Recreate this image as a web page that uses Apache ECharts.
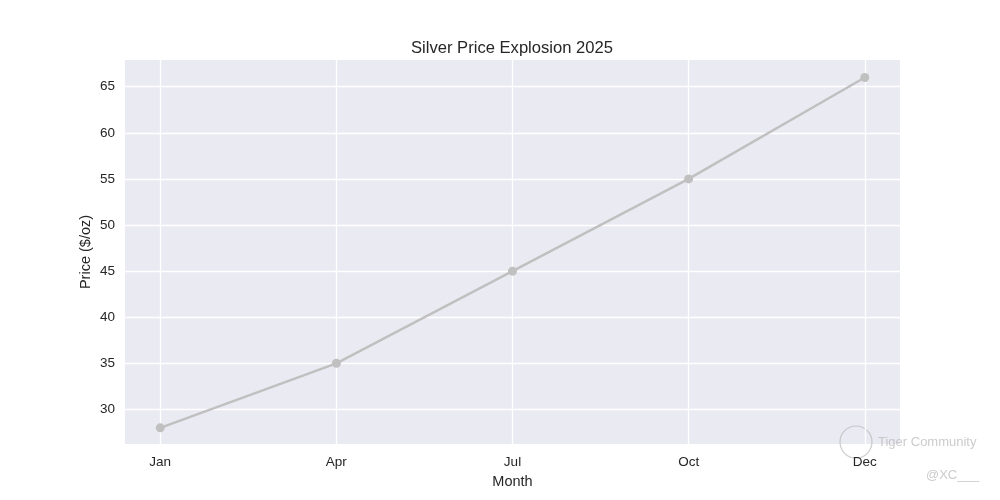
<!DOCTYPE html>
<html>
<head>
<meta charset="utf-8">
<script src="https://cdn.jsdelivr.net/npm/echarts@6/dist/echarts.min.js"></script>
<style>html,body{margin:0;padding:0;background:#fff;}#c{width:1000px;height:500px;}</style>
</head>
<body>
<div id="c"></div>
<script>
const months = ['Jan', 'Apr', 'Jul', 'Oct', 'Dec'];
const prices = [28, 35, 45, 55, 66];
const yTicks = [30, 35, 40, 45, 50, 55, 60, 65];
const xTicks = [0, 1, 2, 3, 4];

const font = 'Liberation Sans, Arial, sans-serif';
const chart = echarts.init(document.getElementById('c'));
chart.setOption({
  backgroundColor: '#ffffff',
  animation: false,
  title: {
    text: 'Silver Price Explosion 2025',
    left: 406, top: 35,
    textStyle: {fontFamily: font, fontSize: 16.6, fontWeight: 'normal', color: '#262626'}
  },
  grid: {left: 125, right: 100, top: 60, bottom: 56, backgroundColor: '#EAEAF2', show: true, borderWidth: 0},
  xAxis: {
    type: 'value', min: -0.2, max: 4.2,
    name: 'Month', nameLocation: 'middle', nameGap: 30, nameMoveOverlap: false,
    nameTextStyle: {fontFamily: font, fontSize: 14.5, color: '#262626'},
    axisLine: {show: false}, axisTick: {show: false, customValues: xTicks},
    axisLabel: {customValues: xTicks, formatter: v => months[Math.round(v)] || '', fontFamily: font, fontSize: 13.5, color: '#262626', margin: 11},
    splitLine: {show: true, lineStyle: {color: '#ffffff', width: 1.3}}
  },
  yAxis: {
    type: 'value', min: 26.25, max: 67.9,
    name: 'Price ($/oz)', nameLocation: 'middle', nameGap: 32, nameMoveOverlap: false,
    nameTextStyle: {fontFamily: font, fontSize: 14.5, color: '#262626'},
    axisLine: {show: false}, axisTick: {show: false, customValues: yTicks},
    axisLabel: {customValues: yTicks, fontFamily: font, fontSize: 13.5, color: '#262626', margin: 10},
    splitLine: {show: true, lineStyle: {color: '#ffffff', width: 1.3}}
  },
  series: [{
    type: 'line',
    data: prices.map((p, i) => [xTicks[i], p]),
    symbol: 'circle', symbolSize: 9,
    lineStyle: {color: '#c0c0c0', width: 2.5},
    itemStyle: {color: '#c0c0c0'}
  }],
  graphic: [
    {type: 'text', left: 878, top: 436, style: {text: 'Tiger Community', fontFamily: font, fontSize: 13, fill: 'rgba(190,190,190,0.8)'}},
    {type: 'text', left: 926, top: 469, style: {text: '@XC___', fontFamily: font, fontSize: 13, fill: 'rgba(190,190,190,0.8)'}},
    {type: 'circle', shape: {cx: 856, cy: 442, r: 16}, style: {fill: 'none', stroke: 'rgba(190,190,190,0.8)', lineWidth: 1.2}}
  ]
});
</script>
</body>
</html>
